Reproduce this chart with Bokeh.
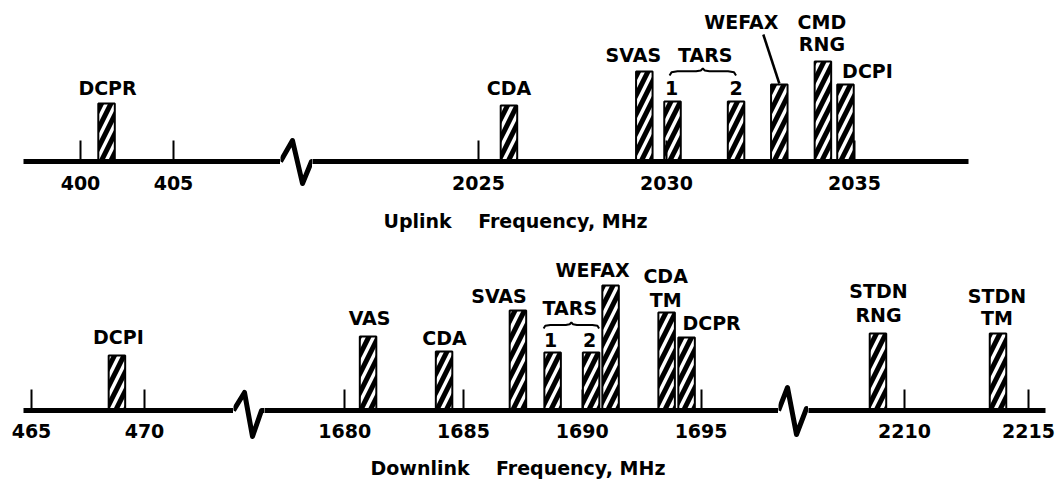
import numpy as np
from bokeh.plotting import figure
from bokeh.layouts import row, column
from bokeh.models import FixedTicker, Range1d
from bokeh.core.properties import value
from bokeh.embed import file_html
from bokeh.resources import INLINE

# ---------------- data ----------------
# Uplink channels (frequency in MHz, relative bar level)
up_lo_names = ["DCPR"]
up_lo_freq = [401.4]
up_lo_level = [58]

up_hi_names = ["CDA", "SVAS", "1", "2", "WEFAX", "CMD\nRNG", "DCPI"]
up_hi_freq = [2025.81, 2029.41, 2030.16, 2031.85, 2033.0, 2034.16, 2034.76]
up_hi_level = [56, 90, 60, 60, 77, 100, 77]

# Downlink channels
dn_lo_names = ["DCPI"]
dn_lo_freq = [468.78]
dn_lo_level = [55]

dn_mid_names = ["VAS", "CDA", "SVAS", "1", "2", "WEFAX", "CDA\nTM", "DCPR"]
dn_mid_freq = [1680.98, 1684.18, 1687.29, 1688.75, 1690.37, 1691.19, 1693.55, 1694.39]
dn_mid_level = [74, 59, 100, 58, 58, 125, 98, 73]

dn_hi_names = ["STDN\nRNG", "STDN\nTM"]
dn_hi_freq = [2208.93, 2213.77]
dn_hi_level = [77, 77]

# tick marks
up_ticks_lo = [400, 405]
up_ticks_hi = [2025, 2030, 2035]
dn_ticks_lo = [465, 470]
dn_ticks_mid = [1680, 1685, 1690, 1695]
dn_ticks_hi = [2210, 2215]

group_name = "TARS"
up_title = "Uplink\u00a0\u00a0\u00a0\u00a0Frequency, MHz"
dn_title = "Downlink\u00a0\u00a0\u00a0\u00a0Frequency, MHz"

# ---------------- style / layout ----------------
FONT = "DejaVu Sans"
LBL = "19px"
TITLE = "19px"
BAR_PX = 16.5
TOTAL_W = 1058
TXT_ADJ = -8   # baseline correction in px


def base_fig(width, height, xr, yr, **kw):
    p = figure(width=width, height=height, x_range=Range1d(*xr), y_range=Range1d(*yr),
               toolbar_location=None, output_backend="svg", y_axis_location=None,
               frame_align=False, **kw)
    p.outline_line_color = None
    p.grid.visible = False
    return p


def seg_fig(width, height, frame_h, bl, br, xr, ticks, standoff):
    p = base_fig(width, height, xr, (0, frame_h), x_axis_location="below",
                 min_border=0, min_border_left=bl, min_border_right=br,
                 min_border_top=0, min_border_bottom=height - frame_h)
    ax = p.xaxis[0]
    ax.ticker = FixedTicker(ticks=ticks)
    ax.axis_line_width = 5
    ax.axis_line_color = "black"
    ax.major_tick_in = 21
    ax.major_tick_out = 0
    ax.major_tick_line_width = 2
    ax.major_tick_line_color = "black"
    ax.minor_tick_line_color = None
    ax.major_label_standoff = standoff
    ax.major_label_text_font = FONT
    ax.major_label_text_font_style = "bold"
    ax.major_label_text_font_size = LBL
    ax.major_label_text_color = "black"
    return p


def ppu(p, width, bl, br):
    return (width - bl - br) / (p.x_range.end - p.x_range.start)


def draw_bars(p, freq, level, scale):
    p.vbar(x=freq, top=level, bottom=0, width=BAR_PX / scale,
           fill_color="black", line_color="black", line_width=2,
           hatch_pattern="/", hatch_color="white", hatch_weight=3.5, hatch_scale=19)


def draw_text(p, xs, ys, ts, xo, yo, align="center", size=LBL):
    p.text(x=xs, y=ys, text=ts, x_offset=xo, y_offset=[v + TXT_ADJ for v in yo],
           text_align=align, text_baseline="alphabetic", text_font=value(FONT),
           text_font_style="bold", text_font_size=size, text_color="black")


def draw_labels(p, names, freq, level, offsets):
    xs, ys, ts, xo, yo = [], [], [], [], []
    for n, f, h, (dx, dys) in zip(names, freq, level, offsets):
        for line, dy in zip(n.split("\n"), dys):
            xs.append(f); ys.append(h); ts.append(line); xo.append(dx); yo.append(dy)
    draw_text(p, xs, ys, ts, xo, yo)


def draw_brace(p, f1, f2, y0, h, w=2):
    d = f2 - f1
    m = (f1 + f2) / 2
    xs = [f1, f1 + 0.03 * d, f1 + 0.12 * d, m - 0.1 * d, m - 0.03 * d, m,
          m + 0.03 * d, m + 0.1 * d, f2 - 0.12 * d, f2 - 0.03 * d, f2]
    ys = [y0, y0 + 0.45 * h, y0 + 0.6 * h, y0 + 0.6 * h, y0 + 0.72 * h, y0 + h,
          y0 + 0.72 * h, y0 + 0.6 * h, y0 + 0.6 * h, y0 + 0.45 * h, y0]
    p.line(xs, ys, line_width=w, line_color="black")


def break_fig(width, height, base_from_top, pts):
    p = base_fig(width, height, (0, width), (-(height - base_from_top), base_from_top),
                 x_axis_location=None, min_border=0)
    p.line([q[0] for q in pts], [q[1] for q in pts], line_width=5, line_color="black",
           line_join="round")
    return p


def title_fig(width, height, text, x_px, y_px):
    p = base_fig(width, height, (0, width), (0, height), x_axis_location=None, min_border=0)
    draw_text(p, [x_px], [y_px], [text], [0], [0], align="left", size=TITLE)
    return p


# ---------------- top row (uplink) ----------------
TOP_H, TOP_FRAME = 200, 161

t1 = seg_fig(280, TOP_H, TOP_FRAME, 23, 0, (396.935, 410.753), up_ticks_lo, 14)
s = ppu(t1, 280, 23, 0)
draw_bars(t1, up_lo_freq, up_lo_level, s)
draw_labels(t1, up_lo_names, up_lo_freq, up_lo_level, [(1, [-8])])

tb = break_fig(32, TOP_H, TOP_FRAME, [(0, 0), (12, 21), (22, -22), (31, 0), (32, 0)])

t2 = seg_fig(746, TOP_H, TOP_FRAME, 0, 90, (2020.585, 2038.032), up_ticks_hi, 14)
s = ppu(t2, 746, 0, 90)
draw_bars(t2, up_hi_freq, up_hi_level, s)
draw_labels(t2, up_hi_names, up_hi_freq, up_hi_level,
            [(0, [-10]), (-11, [-9]), (-1, [-6]), (0, [-6]), (-38, [-55]),
             (-1, [-32, -10]), (22, [-6])])
# TARS group
tars_up = (up_hi_freq[2], up_hi_freq[3])
draw_text(t2, [np.mean(tars_up)], [99], [group_name], [1], [0])
draw_brace(t2, tars_up[0] - 3 / s, tars_up[1], 86, 7)
# WEFAX leader line
t2.segment(x0=[up_hi_freq[4]], y0=[up_hi_level[4] + 1], x1=[up_hi_freq[4] - 16 / s], y1=[127],
           line_width=2.5, line_color="black")

title1 = title_fig(TOTAL_W, 40, up_title, 383, 12)

# ---------------- bottom row (downlink) ----------------
BOT_H, BOT_FRAME = 210, 170

b1 = seg_fig(233, BOT_H, BOT_FRAME, 23, 0, (464.646, 473.938), dn_ticks_lo, 13)
s = ppu(b1, 233, 23, 0)
draw_bars(b1, dn_lo_freq, dn_lo_level, s)
draw_labels(b1, dn_lo_names, dn_lo_freq, dn_lo_level, [(1.5, [-11])])

bb1 = break_fig(31, BOT_H, BOT_FRAME, [(0, 0), (11, 18), (19, -26), (28, 0), (31, 0)])

b2 = seg_fig(514, BOT_H, BOT_FRAME, 0, 0, (1676.62, 1698.26), dn_ticks_mid, 13)
s = ppu(b2, 514, 0, 0)
draw_bars(b2, dn_mid_freq, dn_mid_level, s)
draw_labels(b2, dn_mid_names, dn_mid_freq, dn_mid_level,
            [(1.5, [-11]), (0.5, [-6]), (-19, [-7]), (-2, [-5]), (-1.5, [-5]),
             (-18, [-8]), (-1, [-29, -5]), (25, [-7])])
tars_dn = (dn_mid_freq[3], dn_mid_freq[4])
draw_text(b2, [np.mean(tars_dn)], [95], [group_name], [-2], [0])
draw_brace(b2, tars_dn[0] - 9 / s, tars_dn[1] + 8 / s, 82, 6)

bb2 = break_fig(30, BOT_H, BOT_FRAME, [(0, 0), (9, 23), (18, -24), (28, 2), (30, 1)])

b3 = seg_fig(250, BOT_H, BOT_FRAME, 0, 13, (2206.129, 2215.685), dn_ticks_hi, 13)
s = ppu(b3, 250, 0, 13)
draw_bars(b3, dn_hi_freq, dn_hi_level, s)
draw_labels(b3, dn_hi_names, dn_hi_freq, dn_hi_level,
            [(0.5, [-35, -11]), (-1, [-30, -8])])

title2 = title_fig(TOTAL_W, 29, dn_title, 370, 4)

layout = column(row(t1, tb, t2), title1, row(b1, bb1, b2, bb2, b3), title2)

open("out.html", "w").write(file_html(layout, INLINE))
